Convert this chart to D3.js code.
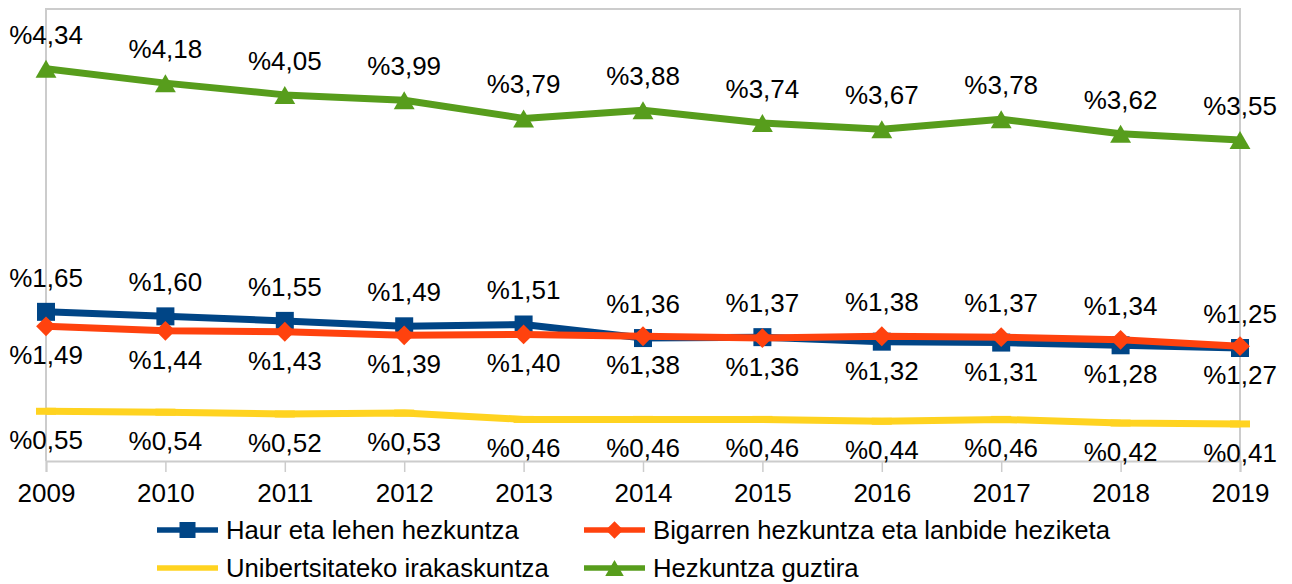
<!DOCTYPE html>
<html>
<head>
<meta charset="utf-8">
<script src="https://cdn.jsdelivr.net/npm/d3@7"></script>
<style>
  body { margin: 0; background: #fff; }
  svg text { font-family: "Liberation Sans", Arial, sans-serif; fill: #000; }
</style>
</head>
<body>
<svg id="chart" width="1292" height="584"></svg>
<script>
// data
var years = ["2009","2010","2011","2012","2013","2014","2015","2016","2017","2018","2019"];
var haur = [1.65,1.60,1.55,1.49,1.51,1.36,1.37,1.32,1.31,1.28,1.25];
var bigarren = [1.49,1.44,1.43,1.39,1.40,1.38,1.36,1.38,1.37,1.34,1.27];
var unib = [0.55,0.54,0.52,0.53,0.46,0.46,0.46,0.44,0.46,0.42,0.41];
var guztira = [4.34,4.18,4.05,3.99,3.79,3.88,3.74,3.67,3.78,3.62,3.55];
var seriesNames = ["Haur eta lehen hezkuntza","Bigarren hezkuntza eta lanbide heziketa","Unibertsitateko irakaskuntza","Hezkuntza guztira"];

var svg = d3.select("#chart");
var plotLeft = 46, plotRight = 1240, plotTop = 9, plotBottom = 461;
var fontSize = 26, legendFont = 25.7;

var x = d3.scalePoint().domain(years).range([plotLeft, plotRight]);
var y = d3.scaleLinear().domain([0, 5]).range([plotBottom, plotTop]);

var fmt = function(v){ return "%" + v.toFixed(2).replace(".", ","); };

// frame
svg.append("path")
   .attr("d", "M" + plotLeft + "," + plotBottom + "V" + plotTop + "H" + plotRight + "V" + plotBottom)
   .attr("fill", "none")
   .attr("stroke", "#cccccc")
   .attr("stroke-width", 2);

// x axis
var xAxis = svg.append("g")
   .attr("transform", "translate(0," + plotBottom + ")")
   .call(d3.axisBottom(x).tickSize(11).tickPadding(12));
xAxis.select(".domain").attr("stroke", "#cccccc").attr("stroke-width", 2);
xAxis.selectAll(".tick line").attr("stroke", "#cccccc").attr("stroke-width", 1.5);
xAxis.selectAll(".tick text")
   .attr("font-size", fontSize)
   .attr("font-family", "Liberation Sans, Arial, sans-serif")
   .attr("fill", "#000");

var series = [
   {name: seriesNames[0], values: haur, color: "#004586", marker: "square"},
   {name: seriesNames[1], values: bigarren, color: "#ff420e", marker: "diamond"},
   {name: seriesNames[2], values: unib, color: "#ffd320", marker: "bar"},
   {name: seriesNames[3], values: guztira, color: "#579d1c", marker: "triangle"}
];

function drawMarker(g, type, color, size){
   if(type == "square"){
      g.append("rect").attr("x", -size/2).attr("y", -size/2)
         .attr("width", size).attr("height", size).attr("fill", color);
   } else if(type == "diamond"){
      var s = size * 0.55;
      g.append("path").attr("d", "M0," + (-s) + "L" + s + ",0L0," + s + "L" + (-s) + ",0Z").attr("fill", color);
   } else if(type == "triangle"){
      var w = size * 0.58, h = size * 0.5;
      g.append("path").attr("d", "M0," + (-h) + "L" + w + "," + h + "L" + (-w) + "," + h + "Z").attr("fill", color);
   } else if(type == "bar"){
      g.append("rect").attr("x", -size/2 - 1).attr("y", -3.5)
         .attr("width", size + 2).attr("height", 7).attr("fill", color);
   }
}

var line = d3.line()
   .x(function(d, i){ return x(years[i]); })
   .y(function(d){ return y(d); });

series.forEach(function(s){
   var g = svg.append("g");
   g.append("path")
      .datum(s.values)
      .attr("d", line)
      .attr("fill", "none")
      .attr("stroke", s.color)
      .attr("stroke-width", 7)
      .attr("stroke-linejoin", "round");
   s.values.forEach(function(v, i){
      var m = g.append("g").attr("transform", "translate(" + x(years[i]) + "," + y(v) + ")");
      drawMarker(m, s.marker, s.color, 18);
   });
});

// data labels
var above = -25, below = 38;
function addLabel(v, i, dy){
   svg.append("text")
      .attr("x", x(years[i]))
      .attr("y", y(v) + dy)
      .attr("text-anchor", "middle")
      .attr("font-size", fontSize)
      .text(fmt(v));
}
guztira.forEach(function(v, i){ addLabel(v, i, above); });
unib.forEach(function(v, i){ addLabel(v, i, below); });
// haur / bigarren: when close, haur on top; otherwise the higher value on top
haur.forEach(function(v, i){
   var o = bigarren[i];
   var haurTop = Math.abs(v - o) < 0.025 || v > o;
   addLabel(v, i, haurTop ? above : below);
   addLabel(o, i, haurTop ? below : above);
});

// legend
var legendCols = [157, 584], legendRows = [530, 568];
series.forEach(function(s, i){
   var lx = legendCols[i % 2], ly = legendRows[Math.floor(i / 2)];
   var g = svg.append("g").attr("transform", "translate(" + lx + "," + ly + ")");
   g.append("line").attr("x1", 0).attr("x2", 61).attr("y1", 0).attr("y2", 0)
      .attr("stroke", s.color).attr("stroke-width", 5.5);
   if(s.marker != "bar"){
      var m = g.append("g").attr("transform", "translate(30.5,0)");
      drawMarker(m, s.marker, s.color, 16);
   }
   g.append("text").attr("x", 69).attr("y", 9)
      .attr("font-size", legendFont)
      .text(s.name);
});
</script>
</body>
</html>
